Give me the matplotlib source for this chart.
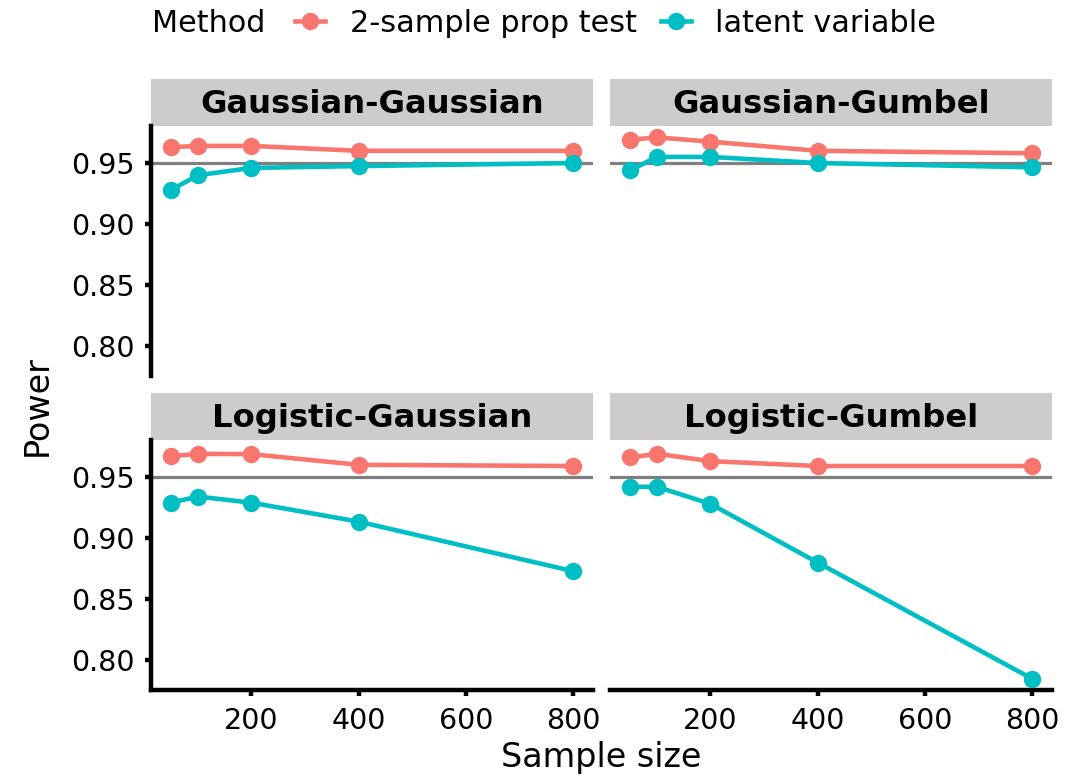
import matplotlib
matplotlib.use("Agg")
import matplotlib.pyplot as plt
from matplotlib.lines import Line2D

# Simulated power by sample size for each data-generating pair
sample_sizes = [50, 100, 200, 400, 800]
facet_titles = ["Gaussian-Gaussian", "Gaussian-Gumbel",
                "Logistic-Gaussian", "Logistic-Gumbel"]

prop_gauss_gauss = [0.963, 0.964, 0.964, 0.960, 0.960]
latent_gauss_gauss = [0.928, 0.940, 0.946, 0.9475, 0.950]
prop_gauss_gumbel = [0.969, 0.971, 0.9675, 0.960, 0.958]
latent_gauss_gumbel = [0.944, 0.955, 0.955, 0.950, 0.9465]
prop_logis_gauss = [0.967, 0.969, 0.9687, 0.960, 0.959]
latent_logis_gauss = [0.929, 0.934, 0.929, 0.9135, 0.873]
prop_logis_gumbel = [0.966, 0.969, 0.963, 0.959, 0.959]
latent_logis_gumbel = [0.942, 0.942, 0.928, 0.880, 0.785]

prop_series = [prop_gauss_gauss, prop_gauss_gumbel, prop_logis_gauss, prop_logis_gumbel]
latent_series = [latent_gauss_gauss, latent_gauss_gumbel, latent_logis_gauss, latent_logis_gumbel]

method_labels = ["2-sample prop test", "latent variable"]
method_colors = ["#F8766D", "#00BFC4"]
nominal_level = 0.95

x_ticks = [200, 400, 600, 800]
y_ticks = [0.80, 0.85, 0.90, 0.95]

W, H = 1088, 776
fig = plt.figure(figsize=(W / 100, H / 100), dpi=100, facecolor="white")


def px_axes(x0, y0, w, h):
    # pixel box measured from the top-left corner
    return fig.add_axes([x0 / W, 1 - (y0 + h) / H, w / W, h / H])


# shared scales with 5% expansion like ggplot
all_y = [v for s in prop_series + latent_series for v in s]
ypad = (max(all_y) - min(all_y)) * 0.05
ylim = (min(all_y) - ypad, max(all_y) + ypad)
xpad = (max(sample_sizes) - min(sample_sizes)) * 0.05
xlim = (min(sample_sizes) - xpad, max(sample_sizes) + xpad)

panel_w, panel_h, strip_h = 442, 250, 47
lefts = [151, 610]
tops = [126, 440]

for i, title in enumerate(facet_titles):
    row, col = divmod(i, 2)
    x0, y0 = lefts[col], tops[row]

    strip = px_axes(x0, y0 - strip_h, panel_w, strip_h)
    strip.set_facecolor("#CCCCCC")
    strip.set_xticks([])
    strip.set_yticks([])
    for sp in strip.spines.values():
        sp.set_visible(False)
    strip.text(0.5, 0.45, title, transform=strip.transAxes, ha="center",
               va="center", fontsize=23.2, fontweight="bold", color="black")

    ax = px_axes(x0, y0, panel_w, panel_h)
    ax.axhline(nominal_level, color="#7F7F7F", linewidth=2.3, zorder=1)
    for vals, color in zip([prop_series[i], latent_series[i]], method_colors):
        ax.plot(sample_sizes, vals, color=color, linewidth=3.3, marker="o",
                markersize=11.5, zorder=3, clip_on=False)

    ax.set_xlim(*xlim)
    ax.set_ylim(*ylim)
    ax.set_xticks(x_ticks)
    ax.set_yticks(y_ticks)
    ax.set_yticklabels([f"{v:.2f}" for v in y_ticks])

    for side in ["top", "right"]:
        ax.spines[side].set_visible(False)
    ax.spines["left"].set_visible(col == 0)
    ax.spines["bottom"].set_visible(row == 1)
    for side in ["left", "bottom"]:
        ax.spines[side].set_linewidth(3.2)
        ax.spines[side].set_capstyle("projecting")

    ax.tick_params(axis="y", direction="out", length=4, width=3.2,
                   labelsize=20.5, pad=8, colors="black",
                   left=(col == 0), labelleft=(col == 0))
    ax.tick_params(axis="x", direction="out", length=4, width=3.2,
                   labelsize=20.5, pad=8, colors="black",
                   bottom=(row == 1), labelbottom=(row == 1))

fig.text(601.5 / W, 1 - 757 / H, "Sample size", ha="center", va="center", fontsize=24)
fig.text(37 / W, 1 - 406 / H, "Power", ha="center", va="center",
         rotation=90, fontsize=24)

# legend across the top
fig.text(152 / W, 1 - 23 / H, "Method", ha="left", va="center", fontsize=21.8)
handles = [Line2D([], [], color=c, linewidth=3.3, marker="o", markersize=11.5)
           for c in method_colors]
fig.legend(handles, method_labels, loc="center left",
           bbox_to_anchor=(295 / W, 1 - 23 / H), ncol=2, frameon=False,
           fontsize=21.8, handlelength=1.0, handletextpad=0.8,
           columnspacing=0.8, borderpad=0, borderaxespad=0)

fig.savefig("out.png", dpi=100, facecolor="white")
